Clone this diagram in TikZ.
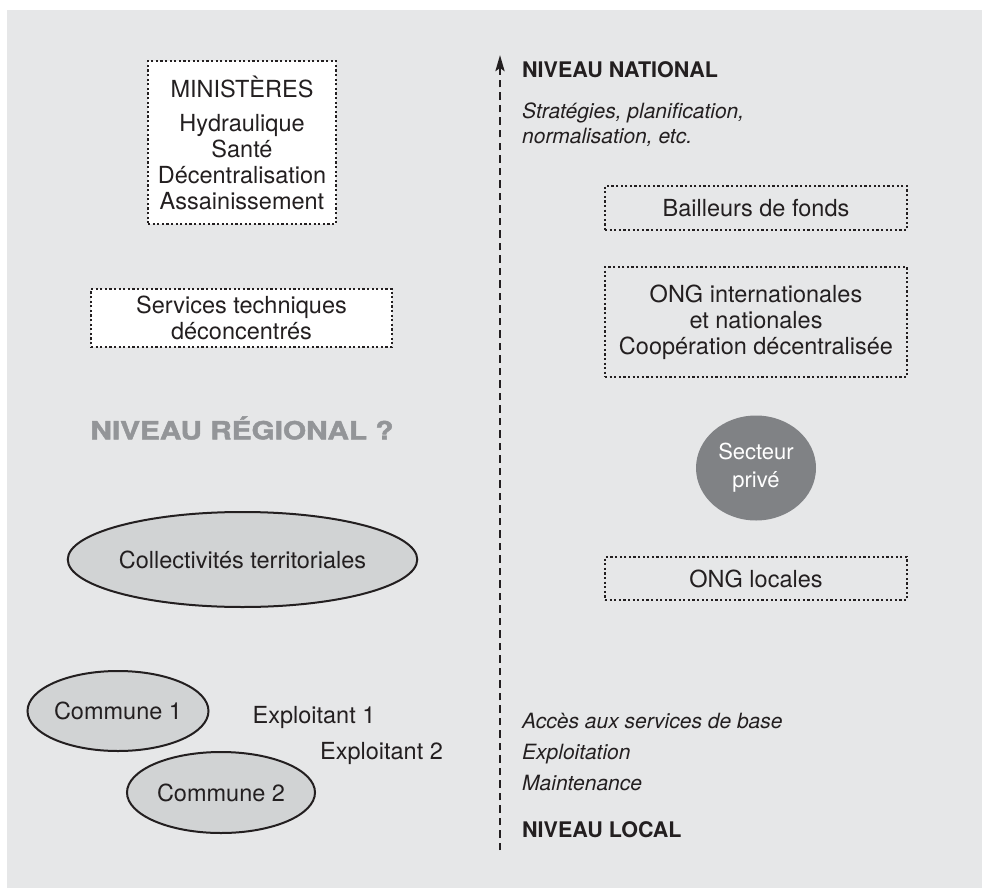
\documentclass[tikz,border=0pt]{standalone}
\usepackage{fontspec}
\usepackage{graphicx}
\setmainfont{TeX Gyre Heros}
\newfontfamily\heavyfont{TeX Gyre Heros}[FakeBold=1.6]
\usetikzlibrary{arrows.meta,shapes.geometric}
\definecolor{bg}{HTML}{E6E7E8}
\definecolor{ink}{HTML}{231F20}
\definecolor{ellfill}{HTML}{D1D3D4}
\definecolor{darkfill}{HTML}{808285}
\definecolor{midgrey}{HTML}{939598}
\newcommand{\txtsize}{\fontsize{23.5}{26}\selectfont}
\begin{document}
\begin{tikzpicture}[x=1pt,y=-1pt,
  every node/.style={text=ink, font=\txtsize},
  dotbox/.style={draw=ink, line width=2.2pt, dash pattern=on 2.2pt off 2.4pt, rectangle, align=center, inner sep=0pt},
  oval/.style={ellipse, draw=ink, line width=2pt, fill=ellfill, inner sep=0pt},
  lbl/.style={anchor=west, inner sep=0pt, align=left},
  levelfont/.style={font=\fontsize{21.5}{25}\selectfont\bfseries},
  notefont/.style={font=\fontsize{21}{25}\selectfont\itshape},
  levelaxis/.style={draw=ink, line width=2.8pt, dash pattern=on 7.5pt off 5pt, -{Stealth[length=16pt,width=9pt,inset=3pt]}}
]
\useasboundingbox (0,0) rectangle (982,888);
\fill[bg] (7,10) rectangle (982,888);

% left column
\node[dotbox, fill=white, minimum width=188pt, minimum height=163pt] (min) at (242,142.5)
  {MINISTÈRES\\[8pt]Hydraulique\\Santé\\Décentralisation\\Assainissement};
\node[dotbox, fill=white, minimum width=301pt, minimum height=58pt] (std) at (241.5,318)
  {Services techniques\\déconcentrés};
\node[inner sep=0pt, text=midgrey, font=\fontsize{25}{30}\selectfont\heavyfont\bfseries] (reg) at (242,428)
  {\scalebox{1.19}[1]{NIVEAU RÉGIONAL ?}};
\node[oval, minimum width=305pt, minimum height=95pt] (coll) at (242.5,559.5) {Collectivités territoriales};
\node[oval, minimum width=180pt, minimum height=80pt] (c1) at (118,711) {Commune 1};
\node[oval, minimum width=188pt, minimum height=81pt] (c2) at (221,792.5) {Commune 2};
\node[inner sep=0pt] (e1) at (314,717) {Exploitant 1};
\node[inner sep=0pt] (e2) at (381.5,753) {Exploitant 2};

% axis
\coordinate (lo) at (500,850);
\coordinate (hi) at (500,55);
\draw[levelaxis] (lo) -- (hi);

% right column
\node[lbl, levelfont] (nat) at (522,70) {NIVEAU NATIONAL};
\node[lbl, notefont] (strat) at (522,124.5) {Stratégies, planification,\\normalisation, etc.};
\node[dotbox, minimum width=302pt, minimum height=44pt] (bail) at (756,208) {Bailleurs de fonds};
\node[dotbox, minimum width=302pt, minimum height=110pt] (ongi) at (756,322)
  {ONG internationales\\et nationales\\Coopération décentralisée};
\node[ellipse, fill=darkfill, inner sep=0pt, minimum width=120pt, minimum height=105pt,
  text=white, align=center, font=\fontsize{22}{28}\selectfont] (priv) at (756,468) {Secteur\\privé};
\node[dotbox, minimum width=302pt, minimum height=43pt] (ongl) at (756,578.5) {ONG locales};
\node[lbl, font=\fontsize{21}{31}\selectfont\itshape] (acc) at (522,752)
  {Accès aux services de base\\Exploitation\\Maintenance};
\node[lbl, levelfont] (loc) at (522,830) {NIVEAU LOCAL};
\end{tikzpicture}
\end{document}
